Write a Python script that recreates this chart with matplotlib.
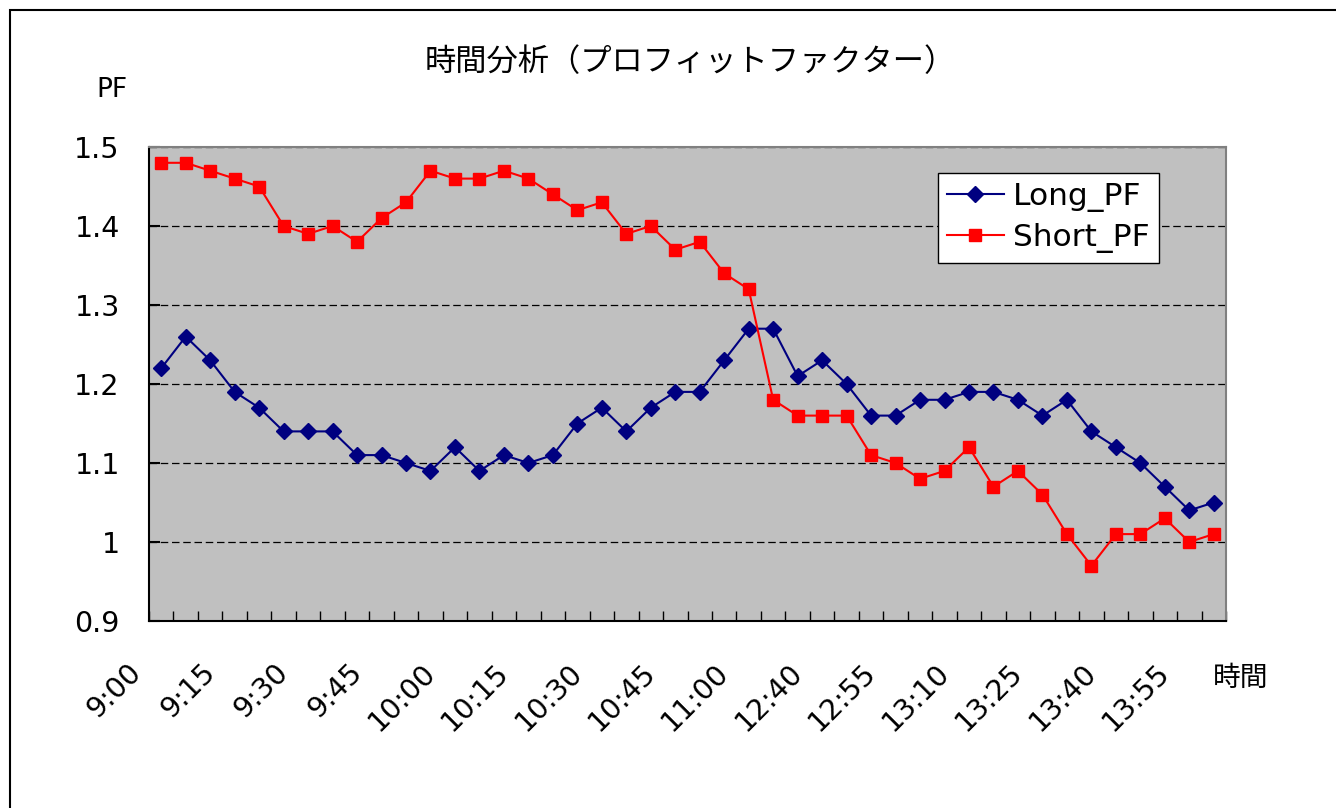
import matplotlib
matplotlib.use("Agg")
import matplotlib.pyplot as plt
import matplotlib.patches as patches
from matplotlib.transforms import ScaledTranslation
from matplotlib.ticker import FuncFormatter
import numpy as np

plt.rcParams['font.family'] = ['DejaVu Sans', 'Noto Sans CJK JP']

title = "時間分析（プロフィットファクター）"
y_label = "PF"
x_label = "時間"

times = ["9:00", "9:05", "9:10", "9:15", "9:20", "9:25", "9:30", "9:35", "9:40",
         "9:45", "9:50", "9:55", "10:00", "10:05", "10:10", "10:15", "10:20",
         "10:25", "10:30", "10:35", "10:40", "10:45", "10:50", "10:55", "11:00",
         "12:30", "12:35", "12:40", "12:45", "12:50", "12:55", "13:00", "13:05",
         "13:10", "13:15", "13:20", "13:25", "13:30", "13:35", "13:40", "13:45",
         "13:50", "13:55", "14:00"]

long_pf = [1.22, 1.26, 1.23, 1.19, 1.17, 1.14, 1.14, 1.14, 1.11, 1.11, 1.10,
           1.09, 1.12, 1.09, 1.11, 1.10, 1.11, 1.15, 1.17, 1.14, 1.17, 1.19,
           1.19, 1.23, 1.27, 1.27, 1.21, 1.23, 1.20, 1.16, 1.16, 1.18, 1.18,
           1.19, 1.19, 1.18, 1.16, 1.18, 1.14, 1.12, 1.10, 1.07, 1.04, 1.05]

short_pf = [1.48, 1.48, 1.47, 1.46, 1.45, 1.40, 1.39, 1.40, 1.38, 1.41, 1.43,
            1.47, 1.46, 1.46, 1.47, 1.46, 1.44, 1.42, 1.43, 1.39, 1.40, 1.37,
            1.38, 1.34, 1.32, 1.18, 1.16, 1.16, 1.16, 1.11, 1.10, 1.08, 1.09,
            1.12, 1.07, 1.09, 1.06, 1.01, 0.97, 1.01, 1.01, 1.03, 1.00, 1.01]

yticks = [0.9, 1.0, 1.1, 1.2, 1.3, 1.4, 1.5]

W, H = 1336, 808
fig = plt.figure(figsize=(W / 100, H / 100), dpi=100)
ax = fig.add_axes([149 / W, 1 - 621 / H, (1226 - 149) / W, (621 - 147) / H])
ax.set_facecolor('#C0C0C0')

x = np.arange(len(times))
ax.plot(x, long_pf, color='#000080', marker='D', ms=8, lw=1.5, label='Long_PF', zorder=3)
ax.plot(x, short_pf, color='#FF0000', marker='s', ms=8.5, lw=1.5, label='Short_PF', zorder=3)

ax.set_xlim(-0.5, len(times) - 0.5)
ax.set_ylim(0.9, 1.5)
ax.set_yticks(yticks)
ax.yaxis.set_major_formatter(FuncFormatter(lambda v, p: '%g' % round(v, 2)))
ax.yaxis.grid(True, color='black', linestyle=(0, (6, 3)), lw=0.9)
ax.set_axisbelow(True)

ax.set_xticks(x[::3])
ax.set_xticks(np.arange(-0.5, len(times)), minor=True)
ax.tick_params(axis='x', which='major', length=0, pad=34, labelsize=20.5)
ax.tick_params(axis='x', which='minor', direction='in', length=7.5, width=1, color='black')
ax.tick_params(axis='y', direction='in', length=8, width=1.5, pad=21, labelsize=20.5)
ax.set_xticklabels(times[::3], rotation=45, ha='right', va='center', rotation_mode='anchor')
offset = ScaledTranslation(-24 / 100, 0, fig.dpi_scale_trans)
for lab in ax.get_xticklabels():
    lab.set_transform(lab.get_transform() + offset)

for side in ['left', 'bottom']:
    ax.spines[side].set_color('black')
    ax.spines[side].set_linewidth(1.5)
for side in ['top', 'right']:
    ax.spines[side].set_color('#808080')
    ax.spines[side].set_linewidth(1.5)

leg = ax.legend(loc='upper left', bbox_to_anchor=(938 / W, 1 - 173 / H),
                bbox_transform=fig.transFigure, borderaxespad=0, fontsize=22.5,
                fancybox=False, framealpha=1, edgecolor='black',
                handlelength=1.8, handletextpad=0.3, labelspacing=0.35,
                borderpad=0.3)
leg.get_frame().set_linewidth(1)

fig.text(690 / W, 1 - 62 / H, title, ha='center', va='center', fontsize=22.5,
         family=['Noto Sans CJK JP'])
fig.text(112 / W, 1 - 90 / H, y_label, ha='center', va='center', fontsize=19)
fig.text(1241 / W, 1 - 678 / H, x_label, ha='center', va='center', fontsize=20,
         family=['Noto Sans CJK JP'])

fig.patches.append(patches.Rectangle((10 / W, -0.1), 1.2, 1 - 10 / H + 0.1,
                                     transform=fig.transFigure, fill=False,
                                     edgecolor='black', lw=1.5))

fig.savefig('out.png', dpi=100)
